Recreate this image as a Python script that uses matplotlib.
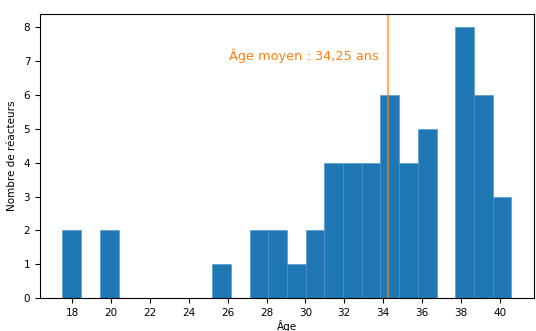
import matplotlib
matplotlib.use('Agg')
import matplotlib.pyplot as plt
import numpy as np

# Histogram of reactor ages: 24 bins between min and max age
age_min = 17.5
age_max = 40.6
n_bins = 24
counts = [2, 0, 2, 0, 0, 0, 0, 0, 1, 0, 2, 2,
          1, 2, 4, 4, 4, 6, 4, 5, 0, 8, 6, 3]
age_mean = 34.25
mean_label = 'Âge moyen : 34,25 ans'
xticks = [18, 20, 22, 24, 26, 28, 30, 32, 34, 36, 38, 40]

edges = np.linspace(age_min, age_max, n_bins + 1)

plt.rcParams['font.size'] = 7.5

fig = plt.figure(figsize=(5.36, 3.31), dpi=100)
ax = fig.add_axes([0.0746, 0.0997, 0.9214, 0.8583])

ax.hist(edges[:-1], bins=edges, weights=counts, color='#1f77b4',
        edgecolor='#4a90c6', linewidth=0.4)
ax.axvline(age_mean, color='#ff7f0e', linewidth=1.6, alpha=0.6)
ax.text(age_mean - 0.45, 7.15, mean_label, color='#ff7f0e',
        ha='right', va='center', fontsize=9.3)

ax.set_xticks(xticks)
ax.set_xlabel('Âge', labelpad=2)
ax.set_ylabel('Nombre de réacteurs', labelpad=5)

fig.savefig('out.png', dpi=100)
